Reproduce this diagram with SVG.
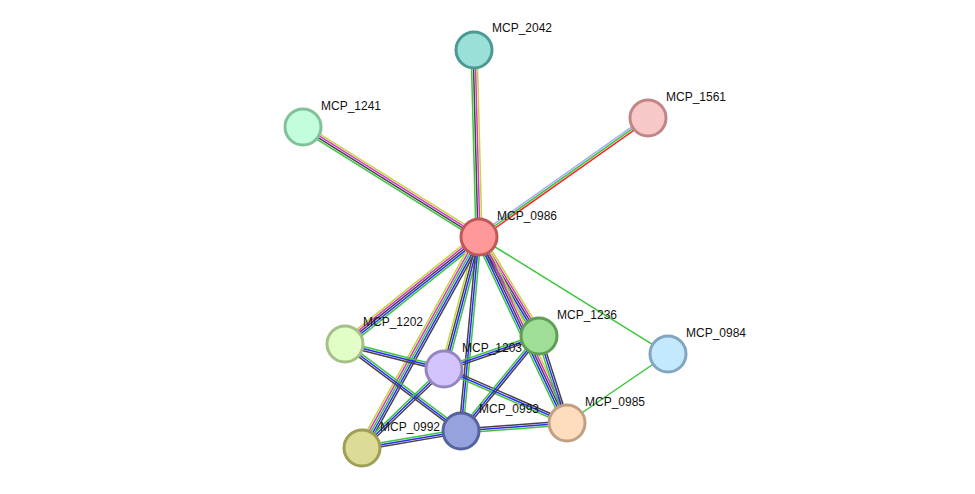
<svg xmlns="http://www.w3.org/2000/svg" width="975" height="494" viewBox="0 0 975 494">
<style>
line{stroke-width:1.5}
.g{stroke:#3bc63b}.k{stroke:#444}.m{stroke:#d633d6}.y{stroke:#c3d63a}.b{stroke:#2a2aff}.r{stroke:#f02a2a}.h{stroke:#a8a8ff}
circle{stroke-width:3}
text{font-family:"Liberation Sans",Arial,sans-serif;font-size:12px;fill:#111}
</style>
<rect width="975" height="494" fill="#fff"/>
<g id="edges">
<g transform="translate(479,237) rotate(-91.5)"><line x2="187" y1="-3" y2="-3" class="g"/><line x2="187" y1="-1" y2="-1" class="k"/><line x2="187" y1="1" y2="1" class="m"/><line x2="187" y1="3" y2="3" class="y"/></g>
<g transform="translate(479,237) rotate(-148)"><line x2="207" y1="-3" y2="-3" class="g"/><line x2="207" y1="-1" y2="-1" class="k"/><line x2="207" y1="1" y2="1" class="m"/><line x2="207" y1="3" y2="3" class="y"/></g>
<g transform="translate(479,237) rotate(-35.2)"><line x2="207" y1="-2" y2="-2" class="h"/><line x2="207" class="g"/><line x2="207" y1="2" y2="2" class="r"/></g>
<g transform="translate(479,237) rotate(31.8)"><line x2="222" class="g"/></g>
<g transform="translate(479,237) rotate(141.4)"><line x2="171" y1="-4" y2="-4" class="g"/><line x2="171" y1="-2" y2="-2" class="b"/><line x2="171" class="k"/><line x2="171" y1="2" y2="2" class="m"/><line x2="171" y1="4" y2="4" class="y"/></g>
<g transform="translate(479,237) rotate(104.9)"><line x2="136" y1="-3" y2="-3" class="g"/><line x2="136" y1="-1" y2="-1" class="b"/><line x2="136" y1="1" y2="1" class="k"/><line x2="136" y1="3" y2="3" class="y"/></g>
<g transform="translate(479,237) rotate(119)"><line x2="241" y1="-4" y2="-4" class="k"/><line x2="241" y1="-2" y2="-2" class="b"/><line x2="241" class="g"/><line x2="241" y1="2" y2="2" class="m"/><line x2="241" y1="4" y2="4" class="y"/></g>
<g transform="translate(479,237) rotate(95.3)"><line x2="195" y1="-2" y2="-2" class="g"/><line x2="195" class="b"/><line x2="195" y1="2" y2="2" class="k"/></g>
<g transform="translate(479,237) rotate(58.8)"><line x2="116" y1="-4" y2="-4" class="y"/><line x2="116" y1="-2" y2="-2" class="m"/><line x2="116" class="k"/><line x2="116" y1="2" y2="2" class="b"/><line x2="116" y1="4" y2="4" class="g"/></g>
<g transform="translate(479,237) rotate(64.7)"><line x2="206" y1="-4" y2="-4" class="y"/><line x2="206" y1="-2" y2="-2" class="m"/><line x2="206" class="k"/><line x2="206" y1="2" y2="2" class="b"/><line x2="206" y1="4" y2="4" class="g"/></g>
<g transform="translate(345,344) rotate(14.2)"><line x2="102" y1="-2" y2="-2" class="g"/><line x2="102" class="b"/><line x2="102" y1="2" y2="2" class="k"/></g>
<g transform="translate(345,344) rotate(36.9)"><line x2="145" y1="-2" y2="-2" class="g"/><line x2="145" class="b"/><line x2="145" y1="2" y2="2" class="k"/></g>
<g transform="translate(444,369) rotate(136.1)"><line x2="114" y1="-2" y2="-2" class="k"/><line x2="114" class="b"/><line x2="114" y1="2" y2="2" class="g"/></g>
<g transform="translate(444,369) rotate(23.7)"><line x2="134" y1="-2" y2="-2" class="k"/><line x2="134" class="b"/><line x2="134" y1="2" y2="2" class="g"/></g>
<g transform="translate(444,369) rotate(-19.2)"><line x2="101" y1="-2" y2="-2" class="g"/><line x2="101" class="b"/><line x2="101" y1="2" y2="2" class="k"/></g>
<g transform="translate(539,336) rotate(129.4)"><line x2="123" y1="-2" y2="-2" class="k"/><line x2="123" class="b"/><line x2="123" y1="2" y2="2" class="g"/></g>
<g transform="translate(539,336) rotate(72.2)"><line x2="91" y1="-2" y2="-2" class="k"/><line x2="91" class="b"/><line x2="91" y1="2" y2="2" class="g"/></g>
<g transform="translate(461,431) rotate(-4.3)"><line x2="106" y1="-2" y2="-2" class="k"/><line x2="106" class="b"/><line x2="106" y1="2" y2="2" class="g"/></g>
<g transform="translate(362,448) rotate(-9.7)"><line x2="100" y1="-2" y2="-2" class="g"/><line x2="100" class="b"/><line x2="100" y1="2" y2="2" class="k"/></g>
<line x1="567" y1="423" x2="668" y2="354" class="g"/>
</g>
<g id="MCP_0986"><circle cx="479" cy="237" r="18" fill="#ff9898" stroke="#c05858"/><text x="497" y="220">MCP_0986</text></g>
<g id="MCP_2042"><circle cx="474" cy="50" r="18" fill="#9ae0d8" stroke="#4a9a93"/><text x="492" y="32">MCP_2042</text></g>
<g id="MCP_1241"><circle cx="303" cy="127" r="18" fill="#c2fedc" stroke="#80c09a"/><text x="321" y="110">MCP_1241</text></g>
<g id="MCP_1561"><circle cx="648" cy="118" r="18" fill="#f8c8c8" stroke="#c08686"/><text x="666" y="101">MCP_1561</text></g>
<g id="MCP_1202"><circle cx="345" cy="344" r="18" fill="#e2fec6" stroke="#a4c086"/><text x="363" y="326">MCP_1202</text></g>
<g id="MCP_1203"><circle cx="444" cy="369" r="18" fill="#d4c4fe" stroke="#9686c0"/><text x="462" y="352">MCP_1203</text></g>
<g id="MCP_1236"><circle cx="539" cy="336" r="18" fill="#9ede96" stroke="#5e9e56"/><text x="557" y="319">MCP_1236</text></g>
<g id="MCP_0984"><circle cx="668" cy="354" r="18" fill="#c4e8fe" stroke="#80a6c0"/><text x="686" y="337">MCP_0984</text></g>
<g id="MCP_0985"><circle cx="567" cy="423" r="18" fill="#fedcbe" stroke="#c0a082"/><text x="585" y="406">MCP_0985</text></g>
<g id="MCP_0993"><circle cx="461" cy="431" r="18" fill="#96a2de" stroke="#56629e"/><text x="479" y="413">MCP_0993</text></g>
<g id="MCP_0992"><circle cx="362" cy="448" r="18" fill="#dcdc96" stroke="#9e9e56"/><text x="380" y="431">MCP_0992</text></g>
</svg>
